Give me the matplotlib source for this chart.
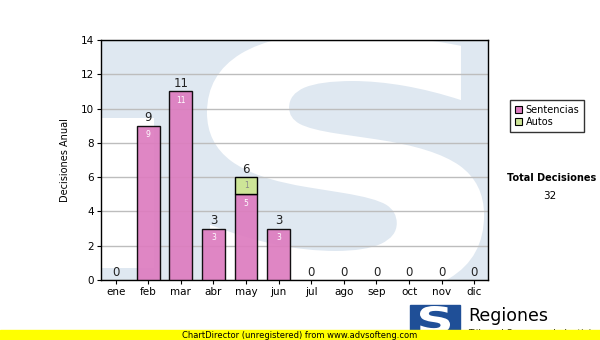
import matplotlib.pyplot as plt
import matplotlib.patches as mpatches
from matplotlib.textpath import TextPath
from matplotlib.font_manager import FontProperties
from matplotlib.transforms import Affine2D
import numpy as np

meses = ["ene", "feb", "mar", "abr", "may", "jun", "jul", "ago", "sep", "oct", "nov", "dic"]
sentencias = [0, 9, 11, 3, 5, 3, 0, 0, 0, 0, 0, 0]
autos = [0, 0, 0, 0, 1, 0, 0, 0, 0, 0, 0, 0]
total_decisiones = 32

W, H = 600, 340
fig = plt.figure(figsize=(6, 3.4), dpi=100)
fig.patch.set_facecolor("white")

def px(x, y):
    return x / W, 1 - y / H

def s_patch(x0, x1, y0, y1, transform, color, z):
    tp = TextPath((0, 0), "S", size=100, prop=FontProperties(family="DejaVu Sans", weight="bold"))
    bb = tp.get_extents()
    tr = Affine2D().translate(-bb.x0, -bb.y0).scale((x1 - x0) / bb.width, (y1 - y0) / bb.height).translate(x0, y0)
    return mpatches.PathPatch(tr.transform_path(tp), color=color, lw=0, zorder=z, transform=transform)

ax = fig.add_axes([101 / W, 60 / H, 387 / W, 240 / H])
ax.set_facecolor("#dfe8f1")
x = np.arange(len(meses))
ax.set_xlim(-0.45, 11.42)
ax.set_ylim(0, 14)

# watermark logo (white S on light blue)
ax.add_patch(mpatches.Rectangle((-0.45, 0.7), 1.62, 8.75, color="white", lw=0, zorder=0))
wm = s_patch(2.8, 11.3, -1.1, 14.4, ax.transData, "white", 0)
wm.set_clip_on(True)
ax.add_patch(wm)

ax.yaxis.grid(True, color="#bdbdbd", lw=1, zorder=1)
ax.set_axisbelow(True)

sen = np.array(sentencias)
aut = np.array(autos)
tot = sen + aut
col_sen = "#dd7cbf"
col_aut = "#cde597"
for i in range(len(meses)):
    if sen[i] > 0:
        ax.bar(x[i], sen[i], width=0.7, color=col_sen, alpha=0.92, edgecolor="black", lw=1, zorder=3)
    if aut[i] > 0:
        ax.bar(x[i], aut[i], bottom=sen[i], width=0.7, color=col_aut, edgecolor="black", lw=1, zorder=3)

for i in range(len(meses)):
    ax.text(x[i], tot[i] + 0.08, str(tot[i]), ha="center", va="bottom", fontsize=8.5,
            color="#222222", zorder=5)
    if sen[i] > 0:
        ax.text(x[i], sen[i] - 0.25, str(sen[i]), ha="center", va="top", fontsize=5.5,
                color="white", zorder=5)
    if aut[i] > 0:
        ax.text(x[i], tot[i] - 0.25, str(aut[i]), ha="center", va="top", fontsize=5.5,
                color="#888888", zorder=5)

ax.set_xticks(x)
ax.set_xticklabels(meses)
ax.set_yticks(range(0, 15, 2))
ax.tick_params(labelsize=7.5, length=3, width=0.8, colors="black", pad=2)
for s in ax.spines.values():
    s.set_color("black")
    s.set_linewidth(1)
ax.set_ylabel("Decisiones Anual", fontsize=7, labelpad=8)

handles = [mpatches.Patch(facecolor=col_sen, edgecolor="black", lw=0.8),
           mpatches.Patch(facecolor=col_aut, edgecolor="black", lw=0.8)]
leg = fig.legend(handles=handles, labels=["Sentencias", "Autos"], loc="upper left",
                 bbox_to_anchor=px(510, 100), fontsize=7, frameon=True, fancybox=False,
                 handlelength=0.7, handleheight=0.7, handletextpad=0.4, borderpad=0.5,
                 labelspacing=0.2, borderaxespad=0)
leg.get_frame().set_edgecolor("black")
leg.get_frame().set_linewidth(1)

fig.text(*px(552, 178), "Total Decisiones", ha="center", va="center", fontsize=7, fontweight="bold")
fig.text(*px(550, 196), str(total_decisiones), ha="center", va="center", fontsize=7.5)

# logo bottom
fig.patches.append(mpatches.Rectangle(px(410, 333), 50 / W, 28 / H, transform=fig.transFigure,
                                      color="#1f4f97", zorder=1))
x0, y0 = px(420, 333)
x1, y1 = px(450, 306)
fig.patches.append(s_patch(x0, x1, y0, y1, fig.transFigure, "white", 2))
fig.text(*px(468, 316), "Regiones", ha="left", va="center", fontsize=12.5, color="black", zorder=2)
fig.text(*px(468, 333), "Tribunal Supremo de Justicia", ha="left", va="center", fontsize=6.5,
         color="black", zorder=2)

fig.patches.append(mpatches.Rectangle((0, 0), 1, 10 / H, transform=fig.transFigure,
                                      color="#ffff00", zorder=5))
fig.text(*px(300, 335), "ChartDirector (unregistered) from www.advsofteng.com", ha="center",
         va="center", fontsize=6, color="black", zorder=6)

fig.savefig("out.png", dpi=100)
